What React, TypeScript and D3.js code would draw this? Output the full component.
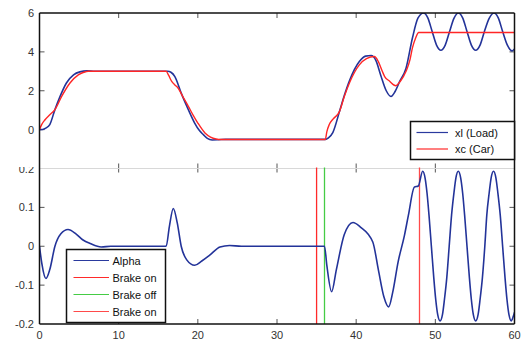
import React from "react";
import * as d3 from "d3";

// ---- data (time [s], value) ----
const loadPoints: [number, number][] = [
  [0, 0], [0.4, 0.01], [0.8, 0.08], [1.3, 0.26], [1.95, 1.03], [2.6, 1.71], [3.4, 2.4], [4.3, 2.82],
  [5.1, 2.97], [6.0, 3.02], [7.0, 3.0], [16.2, 3.0], [16.6, 2.95], [17.1, 2.73], [17.9, 1.88],
  [18.8, 1.03], [19.6, 0.34], [20.2, -0.05], [20.7, -0.26], [21.2, -0.45], [21.8, -0.53], [22.6, -0.52],
  [23.5, -0.5], [36.1, -0.5], [36.5, -0.42], [37.05, -0.15], [37.9, 0.94], [38.5, 1.75], [39.2, 2.56],
  [40.4, 3.5], [41.2, 3.78], [41.9, 3.81], [42.5, 3.55], [43.1, 2.8], [43.8, 2.0], [44.4, 1.71],
  [44.9, 1.95], [45.5, 2.48], [46.3, 3.16], [47.1, 4.7], [47.8, 5.73], [48.5, 6.0], [49.05, 5.75],
  [49.6, 5.05], [50.15, 4.35], [50.7, 4.08], [51.25, 4.35], [51.8, 5.05], [52.35, 5.72], [52.9, 6.0],
  [53.45, 5.75], [54.0, 5.05], [54.55, 4.35], [55.1, 4.08], [55.65, 4.35], [56.2, 5.05], [56.8, 5.72],
  [57.4, 6.0], [57.95, 5.75], [58.5, 5.05], [59.1, 4.35], [59.7, 4.05], [60, 4.15],
];

const carPoints: [number, number][] = [
  [0, 0], [0.27, 0.26], [0.7, 0.51], [1.3, 0.77], [1.95, 1.03], [2.8, 1.71], [3.85, 2.4], [4.9, 2.82],
  [5.6, 2.95], [6.15, 3.0], [16.0, 3.0], [16.3, 2.8], [16.7, 2.48], [17.1, 2.3], [17.5, 2.14],
  [18.1, 1.7], [18.8, 1.2], [19.4, 0.75], [20.0, 0.34], [20.9, -0.17], [21.6, -0.38], [22.3, -0.48],
  [23.0, -0.51], [36.1, -0.51], [36.3, -0.1], [36.6, 0.26], [37.1, 0.55], [37.9, 0.94], [38.5, 1.7],
  [39.2, 2.45], [40.4, 3.33], [41.3, 3.65], [42.3, 3.76], [42.8, 3.5], [43.3, 3.0], [43.6, 2.73],
  [44.2, 2.5], [45.0, 2.26], [45.6, 2.5], [46.3, 3.0], [46.8, 3.6], [47.1, 4.19], [47.5, 4.7],
  [47.9, 5.0], [60, 5.0],
];

const alphaPoints: [number, number][] = [
  [0, 0], [0.3, -0.045], [0.82, -0.083], [1.3, -0.06], [1.95, 0], [2.7, 0.032], [3.6, 0.043],
  [4.6, 0.032], [5.5, 0.016], [6.4, 0.007], [7.8, -0.002], [9, 0], [16.0, 0], [16.4, 0.05],
  [16.9, 0.097], [17.4, 0.06], [17.9, 0], [18.6, -0.035], [19.6, -0.049], [20.5, -0.038],
  [21.5, -0.023], [22.8, -0.002], [24.0, 0.002], [25.5, 0], [36.0, 0], [36.3, -0.05], [36.9, -0.117],
  [37.5, -0.06], [38.5, 0.03], [39.6, 0.061], [40.5, 0.05], [42.1, 0.011], [42.8, -0.06],
  [43.5, -0.13], [44.1, -0.156], [44.6, -0.12], [45.3, -0.04], [46.1, 0.028], [46.6, 0.08],
  [47.35, 0.152], [47.85, 0.155], [48.4, 0.193],
  [48.7, 0.176], [48.95, 0.137], [49.2, 0.08], [49.5, 0], [49.8, -0.08], [50.05, -0.137], [50.3, -0.176],
  [50.6, -0.192], [50.9, -0.176], [51.15, -0.137], [51.45, -0.08], [51.75, 0], [52.05, 0.08],
  [52.35, 0.137], [52.6, 0.176], [52.9, 0.193], [53.2, 0.176], [53.45, 0.137], [53.7, 0.08], [54.0, 0],
  [54.3, -0.08], [54.55, -0.137], [54.8, -0.176], [55.1, -0.192], [55.4, -0.176], [55.65, -0.137],
  [55.95, -0.08], [56.25, 0], [56.5, 0.08], [56.8, 0.137], [57.05, 0.176], [57.35, 0.193],
  [57.65, 0.176], [57.9, 0.137], [58.2, 0.08], [58.5, 0], [58.8, -0.08], [59.05, -0.137],
  [59.3, -0.176], [59.6, -0.192], [59.85, -0.18], [60, -0.17],
];

const brakeEvents = [
  { t: 35, label: "Brake on", color: "#ff2a2a" },
  { t: 36, label: "Brake off", color: "#45cc45" },
  { t: 48, label: "Brake on", color: "#ff4a4a" },
];

const xTicks = [0, 10, 20, 30, 40, 50, 60];
const topYTicks = [0, 2, 4, 6];
const bottomYTicks = [-0.2, -0.1, 0, 0.1, 0.2];
const bottomYLabels = ["-0.2", "-0.1", "0", "0.1", "0.2"];

const topLegend = [
  { label: "xl (Load)", color: "#2a3a9e" },
  { label: "xc (Car)", color: "#ff2a2a" },
];

const BLUE = "#233399";
const RED = "#ff2626";
const FONT = "'Liberation Sans', Arial, sans-serif";

export default function App() {
  const left = 39.5, right = 514.5;
  const topY0 = 13, topY1 = 168.5;
  const botY0 = 168.5, botY1 = 324;

  const x = d3.scaleLinear().domain([0, 60]).range([left, right]);
  const yTop = d3.scaleLinear().domain([-2, 6]).range([topY1, topY0]);
  const yBot = d3.scaleLinear().domain([-0.2, 0.2]).range([botY1, botY0]);

  const lineTop = d3.line<[number, number]>().x(d => x(d[0])).y(d => yTop(d[1])).curve(d3.curveMonotoneX);
  const lineBot = d3.line<[number, number]>().x(d => x(d[0])).y(d => yBot(d[1])).curve(d3.curveMonotoneX);

  const tickColor = "#555";
  const labelColor = "#333";

  return (
    <svg width={524} height={341} style={{ position: "absolute", left: 0, top: 0, background: "#fff" }} fontFamily={FONT}>
      <defs>
        <clipPath id="clipTop"><rect x={left} y={topY0} width={right - left} height={topY1 - topY0} /></clipPath>
        <clipPath id="clipBot"><rect x={left} y={botY0 - 1} width={right - left} height={botY1 - botY0 + 1} /></clipPath>
      </defs>

      {/* Bottom axes labels */}
      {bottomYTicks.map((v, i) => (
        <text key={"bl" + i} x={34} y={yBot(v) + 4} fontSize={11} fill={labelColor} textAnchor="end">{bottomYLabels[i]}</text>
      ))}
      {/* hide top half of the 0.2 label (covered by upper axes) */}
      <rect x={0} y={158} width={left - 1} height={9} fill="#fff" />

      {/* Top axes labels */}
      {topYTicks.map(v => (
        <text key={"tl" + v} x={34} y={yTop(v) + 4} fontSize={11} fill={labelColor} textAnchor="end">{v}</text>
      ))}
      {xTicks.map(v => (
        <text key={"xl" + v} x={x(v)} y={339} fontSize={11} fill={labelColor} textAnchor="middle">{v}</text>
      ))}

      {/* ticks */}
      {xTicks.slice(1, -1).map(v => (
        <g key={"xt" + v} stroke={tickColor} strokeWidth={1}>
          <line x1={x(v)} x2={x(v)} y1={topY0} y2={topY0 + 5} />
          <line x1={x(v)} x2={x(v)} y1={topY1 - 5} y2={topY1 + 4} />
          <line x1={x(v)} x2={x(v)} y1={botY1} y2={botY1 - 5} />
        </g>
      ))}
      {[0, 2, 4].map(v => (
        <g key={"yt" + v} stroke={tickColor} strokeWidth={1}>
          <line x1={left} x2={left + 5} y1={yTop(v)} y2={yTop(v)} />
          <line x1={right} x2={right - 5} y1={yTop(v)} y2={yTop(v)} />
        </g>
      ))}
      {[-0.1, 0, 0.1].map(v => (
        <g key={"ybt" + v} stroke={tickColor} strokeWidth={1}>
          <line x1={left} x2={left + 5} y1={yBot(v)} y2={yBot(v)} />
          <line x1={right} x2={right - 5} y1={yBot(v)} y2={yBot(v)} />
        </g>
      ))}

      {/* separator between axes */}
      <line x1={left} x2={right} y1={topY1} y2={topY1} stroke="#d8d8d8" strokeWidth={1} />

      {/* top curves */}
      <g clipPath="url(#clipTop)" fill="none">
        <path d={lineTop(loadPoints) || ""} stroke={BLUE} strokeWidth={1.6} />
        <path d={lineTop(carPoints) || ""} stroke={RED} strokeWidth={1.4} />
      </g>

      {/* brake lines */}
      {brakeEvents.map((b, i) => (
        <line key={"br" + i} x1={x(b.t)} x2={x(b.t)} y1={botY0 - 1} y2={botY1} stroke={b.color} strokeWidth={1.3} />
      ))}

      {/* alpha */}
      <g clipPath="url(#clipBot)" fill="none">
        <path d={lineBot(alphaPoints) || ""} stroke={BLUE} strokeWidth={1.6} />
      </g>

      {/* axes borders */}
      <g stroke="#111" strokeWidth={1.5} fill="none">
        <line x1={left} x2={right} y1={topY0} y2={topY0} />
        <line x1={left} x2={left} y1={topY0} y2={botY1} />
        <line x1={right} x2={right} y1={topY0} y2={botY1} />
        <line x1={left} x2={right} y1={botY1} y2={botY1} />
      </g>

      {/* top legend */}
      <g>
        <rect x={410.5} y={121.5} width={right - 410.5} height={38} fill="#fff" stroke="#111" strokeWidth={1.5} />
        {topLegend.map((l, i) => (
          <g key={"tlg" + i}>
            <line x1={416.5} x2={448} y1={132.5 + i * 16.5} y2={132.5 + i * 16.5} stroke={l.color} strokeWidth={1.2} />
            <text x={455} y={136.5 + i * 16.5} fontSize={11} fill="#111">{l.label}</text>
          </g>
        ))}
      </g>

      {/* bottom legend */}
      <g>
        <rect x={66.5} y={249.5} width={99} height={73} fill="#fff" stroke="#111" strokeWidth={1.5} />
        {[{ label: "Alpha", color: "#2a3a9e" }, ...brakeEvents].map((l, i) => (
          <g key={"blg" + i}>
            <line x1={73.5} x2={109} y1={260.5 + i * 17} y2={260.5 + i * 17} stroke={l.color} strokeWidth={1.2} />
            <text x={112.5} y={264.5 + i * 17} fontSize={11} fill="#111">{l.label}</text>
          </g>
        ))}
      </g>
    </svg>
  );
}
